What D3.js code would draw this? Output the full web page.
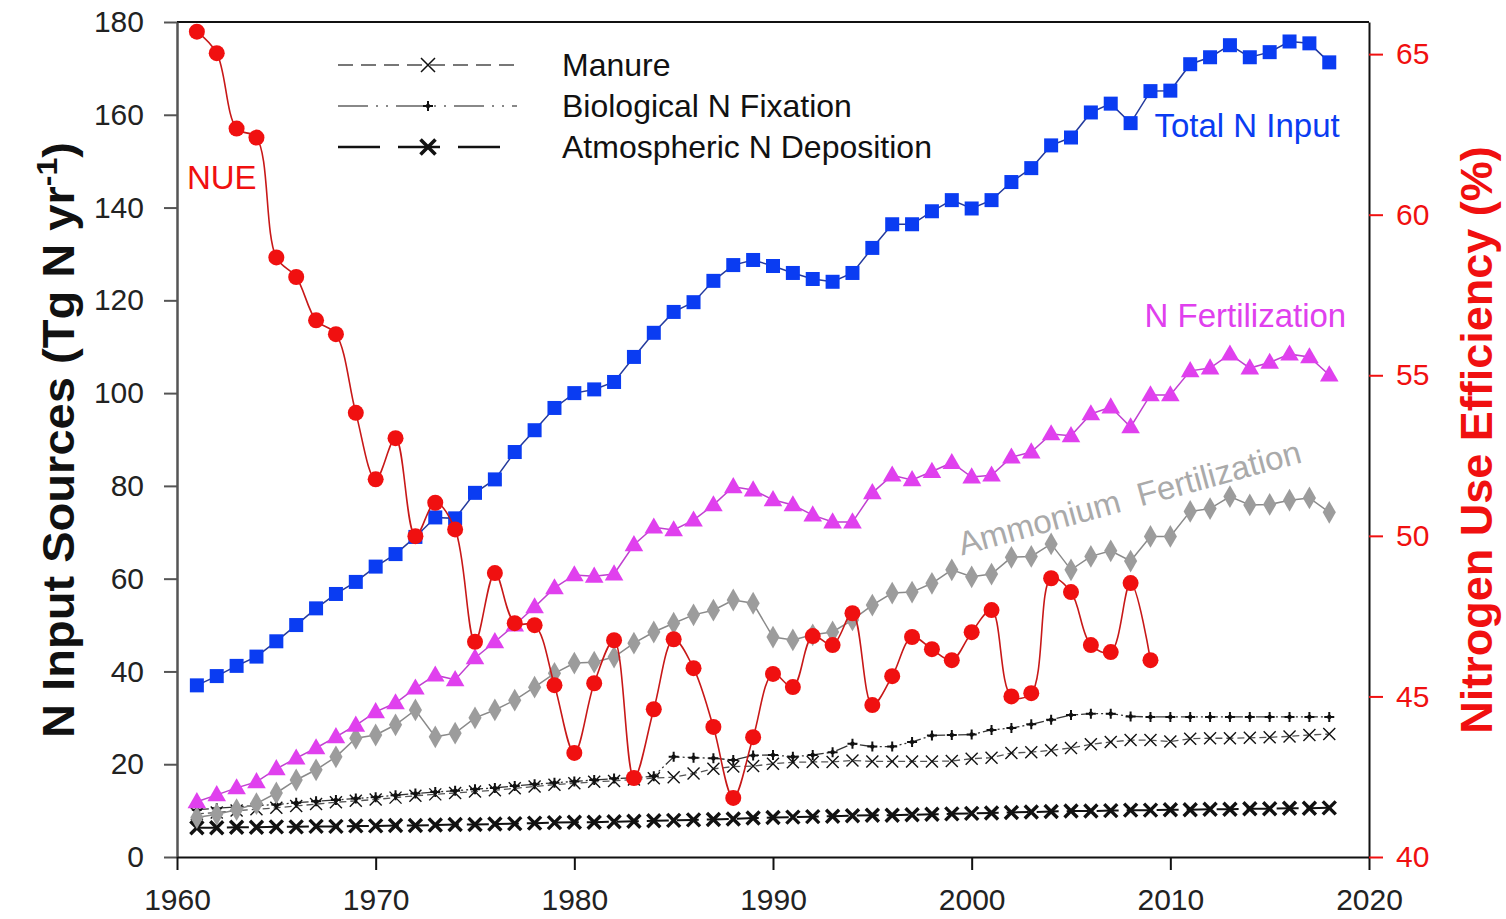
<!DOCTYPE html>
<html><head><meta charset="utf-8">
<script src="https://cdn.jsdelivr.net/npm/d3@7/dist/d3.min.js"></script>
<style>
html,body{margin:0;padding:0;background:#fff;}
svg{display:block;font-family:"Liberation Sans",Arial,sans-serif;}
</style></head>
<body><svg id="chart" width="1506" height="919"></svg>
<script>
const years = [1961,1962,1963,1964,1965,1966,1967,1968,1969,1970,1971,1972,1973,1974,1975,1976,1977,1978,1979,1980,
1981,1982,1983,1984,1985,1986,1987,1988,1989,1990,1991,1992,1993,1994,1995,1996,1997,1998,1999,2000,
2001,2002,2003,2004,2005,2006,2007,2008,2009,2010,2011,2012,2013,2014,2015,2016,2017,2018];
const totalN = [37,39,41.2,43.2,46.5,50,53.6,56.7,59.3,62.6,65.3,69,73.2,73,78.5,81.4,87.3,92,96.8,100,
100.8,102.4,107.8,113,117.5,119.6,124.2,127.6,128.7,127.4,125.9,124.6,124,125.9,131.3,136.4,136.4,139.2,141.6,139.8,
141.6,145.5,148.5,153.4,155.1,160.5,162.4,158.2,165.1,165.2,170.9,172.4,175,172.4,173.5,175.8,175.4,171.3];
const nFert = [11.9,13.4,14.9,16.2,19,21.3,23.5,25.9,28.4,31.3,33.2,36.4,39.2,38.2,42.9,46.4,50,53.9,58,60.8,
60.5,61,67.3,71.1,70.5,72.6,75.9,79.8,79.1,77,75.9,73.7,72.2,72.2,78.5,82.3,81.3,83.1,85,81.9,
82.3,86.2,87.3,91.2,90.8,95.5,97,92.7,99.6,99.6,104.8,105.4,108.4,105.4,106.6,108.4,107.8,103.9];
const ammonium = [8.5,9.2,10.2,11.5,13.8,16.6,18.8,21.6,25.6,26.3,28.5,31.7,25.9,26.7,30,31.7,33.8,36.6,39.6,41.8,
42,43.1,46.1,48.5,50.4,52.2,53.2,55.4,54.7,47.4,46.8,47.9,48.5,51.1,54.3,56.9,57.1,59,61.9,60.4,
61,64.6,64.8,67.5,61.9,64.8,66,63.8,69.1,69.1,74.5,75.1,77.7,75.9,76,76.9,77.4,74.3];
const manure = [9.3,9.6,10,10.3,10.6,11,11.4,11.8,12.1,12.4,12.8,13.2,13.5,13.8,14.1,14.4,14.8,15.2,15.6,15.9,
16.2,16.4,16.7,17,17.2,18,19,19.5,19.6,20.1,20.4,20.5,20.5,20.8,20.6,20.6,20.6,20.6,20.7,21.2,
21.4,22.4,22.6,23,23.5,24.3,24.8,25.2,25.2,24.9,25.5,25.6,25.6,25.7,25.8,26,26.3,26.5];
const bnf = [10.2,10.5,10.8,11.1,11.3,11.7,12,12.3,12.6,12.9,13.3,13.7,14,14.3,14.6,14.9,15.3,15.7,16,16.3,
16.6,16.9,17.1,17.4,21.6,21.4,21.3,20.9,21.9,22,21.6,22,22.6,24.4,23.8,23.8,24.8,26.2,26.3,26.4,
27.4,27.8,28.6,29.6,30.6,30.9,30.9,30.3,30.2,30.2,30.2,30.2,30.2,30.2,30.2,30.2,30.2,30.2];
const deposition = [6.3,6.3,6.4,6.4,6.5,6.5,6.6,6.6,6.7,6.7,6.8,6.8,6.9,7.0,7.0,7.1,7.2,7.3,7.4,7.5,
7.5,7.6,7.7,7.8,7.9,8.0,8.1,8.2,8.4,8.5,8.6,8.7,8.8,8.9,9.0,9.0,9.1,9.2,9.3,9.4,
9.5,9.6,9.7,9.8,9.9,9.9,10.0,10.1,10.1,10.2,10.2,10.3,10.3,10.4,10.4,10.5,10.5,10.6];
const nueYears = years.slice(0, 49);
const nue = [65.7,65.03,62.68,62.4,58.67,58.06,56.71,56.28,53.83,51.76,
53.04,49.99,51.03,50.2,46.7,48.84,47.28,47.22,45.35,43.24,
45.41,46.75,42.46,44.6,46.78,45.88,44.05,41.84,43.73,45.7,
45.29,46.88,46.6,47.59,44.73,45.63,46.85,46.47,46.13,47.0,
47.69,45.0,45.1,48.68,48.25,46.6,46.38,48.53,46.13];
const xTicks = [1960,1970,1980,1990,2000,2010,2020];
const yLeftTicks = [0,20,40,60,80,100,120,140,160,180];
const yRightTicks = [40,45,50,55,60,65];
const legendLabels = ["Manure","Biological N Fixation","Atmospheric N Deposition"];

const svg = d3.select("#chart");
const X0=177, X1=1369, Y0=857, Y1=22;
const x = d3.scaleLinear().domain([1960,2020]).range([X0,X1]);
const yL = d3.scaleLinear().domain([0,180]).range([Y0,Y1]);
const yR = d3.scaleLinear().domain([40,66]).range([Y0,Y1]);

const C = {blue:"#0a3cf2", blueLine:"#243a9c", mag:"#e040ee", magLine:"#c040d0", gray:"#9c9c9c", grayLine:"#8a8a8a", red:"#f01010", redLine:"#c81818"};
const FONT = "Liberation Sans, Arial";

// top frame
svg.append("line").attr("x1",X0).attr("x2",X1).attr("y1",Y1).attr("y2",Y1).attr("stroke","#111").attr("stroke-width",2);

// axes
const axL = svg.append("g").attr("transform",`translate(${X0},0)`)
  .call(d3.axisLeft(yL).tickValues(yLeftTicks).tickSize(13).tickPadding(20).tickSizeOuter(0));
axL.select(".domain").attr("stroke","#555").attr("stroke-width",2.5);
axL.selectAll(".tick line").attr("stroke","#555").attr("stroke-width",2);
axL.selectAll(".tick text").attr("font-size",30).attr("fill","#222").attr("font-family",FONT);

const axB = svg.append("g").attr("transform",`translate(0,${Y0})`)
  .call(d3.axisBottom(x).tickValues(xTicks).tickFormat(d3.format("d")).tickSize(13).tickPadding(19).tickSizeOuter(0));
axB.select(".domain").attr("stroke","#111").attr("stroke-width",2);
axB.selectAll(".tick line").attr("stroke","#111").attr("stroke-width",2);
axB.selectAll(".tick text").attr("font-size",30).attr("fill","#222").attr("font-family",FONT);

const axR = svg.append("g").attr("transform",`translate(${X1},0)`)
  .call(d3.axisRight(yR).tickValues(yRightTicks).tickSize(14).tickPadding(13).tickSizeOuter(0));
axR.select(".domain").attr("stroke","#111").attr("stroke-width",2);
axR.selectAll(".tick line").attr("stroke",C.red).attr("stroke-width",2);
axR.selectAll(".tick text").attr("font-size",30).attr("fill",C.red).attr("font-family",FONT);

// axis titles
const tL = svg.append("text").attr("transform",`translate(74,440) rotate(-90) scale(1.07,1)`)
  .attr("text-anchor","middle").attr("font-size",44).attr("font-weight","bold").attr("fill","#111");
tL.append("tspan").text("N Input Sources (Tg N yr");
tL.append("tspan").text("-1").attr("font-size",30).attr("dy",-17);
tL.append("tspan").text(")").attr("dy",17);
svg.append("text").attr("transform",`translate(1492,440) rotate(-90)`)
  .attr("text-anchor","middle").attr("font-size",45).attr("font-weight","bold").attr("fill",C.red)
  .text("Nitrogen Use Efficiency (%)");

// helpers
const lineL = d3.line().x((d,i)=>x(years[i])).y(d=>yL(d));
function drawSeries(vals, stroke, width, dash){
  svg.append("path").datum(vals).attr("d",lineL).attr("fill","none")
    .attr("stroke",stroke).attr("stroke-width",width).attr("stroke-dasharray",dash||null);
}
function xMark(g, size, sw){
  const s=size/2;
  g.append("path").attr("d",`M${-s},${-s}L${s},${s}M${-s},${s}L${s},${-s}`).attr("stroke","#111").attr("stroke-width",sw).attr("fill","none");
}
function plusMark(g, size, sw){
  const s=size/2;
  g.append("path").attr("d",`M${-s},0L${s},0M0,${-s}L0,${s}`).attr("stroke","#111").attr("stroke-width",sw).attr("fill","none");
  g.append("circle").attr("r",2.2).attr("fill","#111");
}

// Atmospheric N deposition
drawSeries(deposition, "#111", 2, "22,8");
deposition.forEach((d,i)=>{ const g=svg.append("g").attr("transform",`translate(${x(years[i])},${yL(d)})`); xMark(g,13,3.4); });
// Manure
drawSeries(manure, "#555", 1.3, "7,4");
manure.forEach((d,i)=>{ const g=svg.append("g").attr("transform",`translate(${x(years[i])},${yL(d)})`); xMark(g,12,1.4); });
// BNF
drawSeries(bnf, "#333", 1.3, "12,3,2,3,2,3");
bnf.forEach((d,i)=>{ const g=svg.append("g").attr("transform",`translate(${x(years[i])},${yL(d)})`); plusMark(g,10,2); });

// Ammonium fertilization
drawSeries(ammonium, C.grayLine, 1.5);
svg.selectAll(".amm").data(ammonium).enter().append("path")
  .attr("transform",(d,i)=>`translate(${x(years[i])},${yL(d)})`)
  .attr("d",d3.symbol().type(d3.symbolDiamond).size(150)).attr("fill",C.gray);

// N fertilization
drawSeries(nFert, C.magLine, 1.5);
svg.selectAll(".nf").data(nFert).enter().append("path")
  .attr("transform",(d,i)=>`translate(${x(years[i])},${yL(d)+1})`)
  .attr("d",d3.symbol().type(d3.symbolTriangle).size(150)).attr("fill",C.mag);

// Total N input
drawSeries(totalN, C.blueLine, 1.5);
svg.selectAll(".tn").data(totalN).enter().append("rect")
  .attr("x",(d,i)=>x(years[i])-7).attr("y",d=>yL(d)-7).attr("width",14).attr("height",14).attr("fill",C.blue);

// NUE
const lineR = d3.line().x((d,i)=>x(nueYears[i])).y(d=>yR(d)).curve(d3.curveCatmullRom.alpha(0.5));
svg.append("path").datum(nue).attr("d",lineR).attr("fill","none").attr("stroke",C.redLine).attr("stroke-width",1.6);
svg.selectAll(".nue").data(nue).enter().append("circle")
  .attr("cx",(d,i)=>x(nueYears[i])).attr("cy",d=>yR(d)).attr("r",8).attr("fill",C.red);

// series labels
svg.append("text").attr("x",x(1960.5)).attr("y",yR(60.8)).attr("font-size",33).attr("fill",C.red).text("NUE");
svg.append("text").attr("x",x(2009.2)).attr("y",yL(155.2)).attr("font-size",33).attr("fill",C.blue).text("Total N Input");
svg.append("text").attr("x",x(2008.7)).attr("y",yL(114.2)).attr("font-size",33).attr("fill",C.mag).text("N Fertilization");
svg.append("text").attr("transform",`translate(${x(1999.5)},${yL(65)}) rotate(-15.3)`).attr("font-size",33).attr("fill","#aaa")
  .attr("xml:space","preserve").text("Ammonium  Fertilization");

// legend
const legX0=338, legX1=517, legMX=428, legY=[65,106,147];
const leg = svg.append("g");
leg.append("line").attr("x1",legX0).attr("x2",legX1).attr("y1",legY[0]).attr("y2",legY[0]).attr("stroke","#777").attr("stroke-width",2).attr("stroke-dasharray","15,8");
xMark(leg.append("g").attr("transform",`translate(${legMX},${legY[0]})`),14,1.5);
leg.append("line").attr("x1",legX0).attr("x2",legX1).attr("y1",legY[1]).attr("y2",legY[1]).attr("stroke","#888").attr("stroke-width",2).attr("stroke-dasharray","30,8,2,8,2,8");
plusMark(leg.append("g").attr("transform",`translate(${legMX},${legY[1]})`),10,2);
leg.append("line").attr("x1",legX0).attr("x2",legX1-14).attr("y1",legY[2]).attr("y2",legY[2]).attr("stroke","#111").attr("stroke-width",2.5).attr("stroke-dasharray","42,18");
xMark(leg.append("g").attr("transform",`translate(${legMX},${legY[2]})`),15,3.6);
legendLabels.forEach((t,i)=>{
  leg.append("text").attr("x",562).attr("y",legY[i]+11).attr("font-size",32).attr("fill","#111").text(t);
});
</script></body></html>
